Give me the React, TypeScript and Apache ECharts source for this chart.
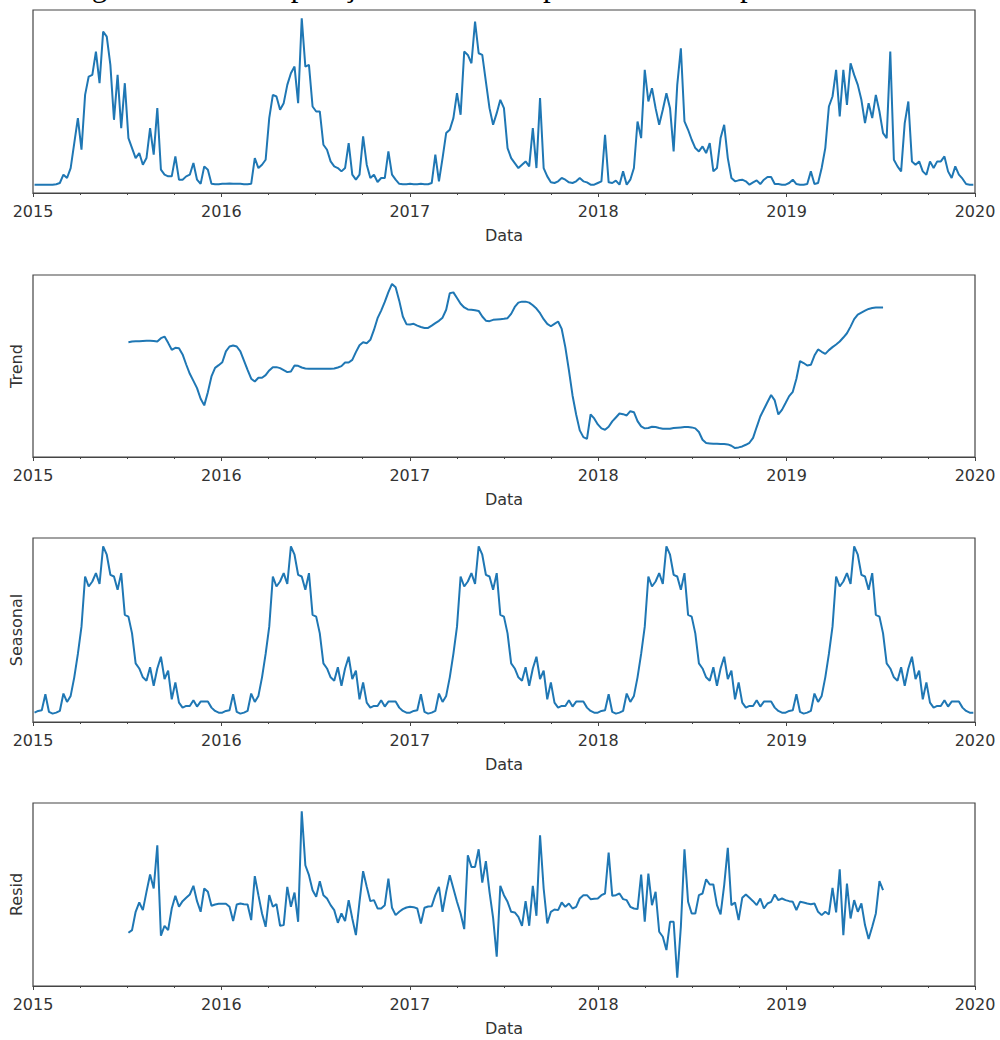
import React, { useEffect, useRef } from "react";
import * as echarts from "echarts";

// Weekly series, first observation on 2015-01-04 (3 days after the 2015 tick).
const FIRST_DAY_OFFSET = 3;
// Trend and residual are undefined for the first and last half-cycle (26 weeks).
const DECOMP_START = 26;

const yearTicks = ["2015", "2016", "2017", "2018", "2019", "2020"];

const observed = [
  0, 0, 0, 0, 0, 0, 0.3, 1, 6, 4, 10, 25, 40, 21, 54, 65, 66, 80, 61, 92,
  89, 72, 39, 66, 34, 61, 28, 22, 16, 19, 12, 16, 34, 18, 46, 9, 6, 5, 5, 17,
  3, 3, 5, 6, 13, 3, 0.5, 11, 9, 0.5, 0.3, 0.3,
  0.5, 0.5, 0.7, 0.5, 0.5, 0.5, 0.3, 0.3, 0.5, 16, 10, 12, 15, 40, 54, 53, 45, 49, 60,
  67, 71, 49, 100, 71, 72, 47, 44, 44, 24, 21, 14, 11, 10, 8, 10, 25, 6, 3, 6,
  29, 12, 4, 6, 1.6, 4, 4, 20, 6, 3, 0.5, 0.3, 0.3,
  0.5, 0.3, 0.3, 0.5, 0.3, 0.3, 1, 18, 2, 16, 31, 33, 40, 55, 42, 80, 78, 73, 98, 79,
  78, 62, 46, 36, 43, 51,
  46, 22, 16, 13, 10, 12, 14, 11, 34, 10,
  52, 10, 5, 1.4, 1, 2, 4, 3, 1.4, 1,
  2, 4, 2, 1.4, 0, 0, 1, 2, 30, 1.4,
  1, 2.4, 0, 8, 0, 3, 10, 38, 28, 69,
  50, 58, 46, 36, 45, 55, 46, 20, 60, 82,
  38, 33, 27, 22, 20, 23, 19, 25, 8, 10,
  28, 36, 16, 4, 2, 2.6, 3, 2, 0, 1.4,
  2.6, 0.4, 3, 4.6, 4.6, 0.4, 0.4, 0, 0, 1,
  3, 0.4, 0, 0, 0.4, 8, 0.4, 1, 10, 22,
  47, 53, 69, 41, 69, 48, 73, 66, 60, 51,
  37, 49, 40, 54, 44, 31, 28, 80, 15, 11,
  8, 37, 50, 14, 12, 14, 8, 6, 14, 10,
  14, 14, 17, 8, 4, 11, 6, 3.6, 0.4, 0,
  0,
];

const trend = [
  64.4, 64.8, 64.9, 65, 65.1, 65.2, 65.2, 65.1, 64.8, 66.8,
  67.8, 64, 59.8, 61, 60.8, 57, 50.9, 45.3, 41, 36.6,
  30.2, 26.2, 34.2, 43.7, 48.9, 50.5, 52.3, 58.8, 61.8, 62.4,
  61.8, 58.8, 53.3, 47.7, 42.3, 40.6, 42.9, 42.9, 44.5, 47.3,
  49.3, 49.3, 48.7, 47.5, 46.3, 46.7, 50.3, 50.1, 49.1, 48.5,
  48.3, 48.3, 48.3, 48.3, 48.3, 48.3, 48.3, 48.5, 49.1, 49.9,
  52.1, 52.1, 53.7, 58.4, 62.5, 64.4, 63.8, 65.8, 71.8, 78.9,
  83.5, 88.7, 94.6, 99.6, 97.6, 89.5, 79.9, 75.3, 75.1, 75.5,
  74.4, 73.6, 73, 73, 74.4, 75.9, 77.3, 79.2, 84, 94,
  94.5, 91.1, 87.6, 85.4, 84.2, 84, 83.7, 83.3, 79.9, 77.4,
  77.1, 77.9, 78.1, 78.3, 78.5, 78.9, 81.5, 85.7, 88.3, 88.9,
  88.9, 88.3, 86.7, 84.7, 81.9, 78.3, 75.5, 74, 75.5, 76.9,
  72.4, 61.4, 47.3, 32.2, 20.7, 11.1, 7, 6, 20.7, 18.3,
  14.7, 12.3, 11.5, 13.3, 16.5, 18.9, 21.3, 20.9, 20.1, 22.7,
  22.1, 16.7, 13.5, 12.3, 12.5, 13.3, 13.1, 12.5, 12.1, 12.1,
  12.1, 12.5, 12.7, 12.9, 13.1, 13.1, 12.9, 12.3, 10.1, 5.4,
  3.4, 3.2, 3, 3, 2.8, 2.8, 2.6, 1.8, 0.4, 0.8,
  1.4, 2.4, 3.6, 6.6, 13.1, 19.5, 23.9, 28.2, 32.5, 29.2,
  20.7, 23.5, 27.6, 31.8, 34.4, 42.3, 53, 51.8, 50.3, 50.7,
  56.3, 60, 58.6, 57.3, 59.6, 61.4, 63, 64.8, 67.2, 69.8,
  73.8, 78.3, 81.1, 82.3, 83.5, 84.5, 85, 85.3, 85.3, 85.3,
];

// Seasonal component: the same 52-week cycle for every year.
const seasonal = [
  0.6, 1.6, 2, 11.6, 1, 0, 0.6, 1.6, 12, 7, 10.6, 21.7, 35.7, 52, 82, 76, 79, 84, 77.5, 100,
  95, 83, 82, 74, 84, 59, 58, 48, 30, 27, 21.7, 19.7, 27.7, 16.7, 27, 34, 20.7, 25.7, 8.6, 18.7,
  6.6, 3.6, 4.6, 4.6, 8, 4.2, 7.2, 7.2, 7.2, 3.6, 1.6, 0.6,
  0.6, 1.6, 2, 11.6, 1, 0, 0.6, 1.6, 12, 7, 10.6, 21.7, 35.7, 52, 82, 76, 79, 84, 77.5, 100,
  95, 83, 82, 74, 84, 59, 58, 48, 30, 27, 21.7, 19.7, 27.7, 16.7, 27, 34, 20.7, 25.7, 8.6, 18.7,
  6.6, 3.6, 4.6, 4.6, 8, 4.2, 7.2, 7.2, 7.2, 3.6, 1.6, 0.6,
  0.6, 1.6, 2, 11.6, 1, 0, 0.6, 1.6, 12, 7, 10.6, 21.7, 35.7, 52, 82, 76, 79, 84, 77.5, 100,
  95, 83, 82, 74, 84, 59, 58, 48, 30, 27, 21.7, 19.7, 27.7, 16.7, 27, 34, 20.7, 25.7, 8.6, 18.7,
  6.6, 3.6, 4.6, 4.6, 8, 4.2, 7.2, 7.2, 7.2, 3.6, 1.6, 0.6,
  0.6, 1.6, 2, 11.6, 1, 0, 0.6, 1.6, 12, 7, 10.6, 21.7, 35.7, 52, 82, 76, 79, 84, 77.5, 100,
  95, 83, 82, 74, 84, 59, 58, 48, 30, 27, 21.7, 19.7, 27.7, 16.7, 27, 34, 20.7, 25.7, 8.6, 18.7,
  6.6, 3.6, 4.6, 4.6, 8, 4.2, 7.2, 7.2, 7.2, 3.6, 1.6, 0.6,
  0.6, 1.6, 2, 11.6, 1, 0, 0.6, 1.6, 12, 7, 10.6, 21.7, 35.7, 52, 82, 76, 79, 84, 77.5, 100,
  95, 83, 82, 74, 84, 59, 58, 48, 30, 27, 21.7, 19.7, 27.7, 16.7, 27, 34, 20.7, 25.7, 8.6, 18.7,
  6.6, 3.6, 4.6, 4.6, 8, 4.2, 7.2, 7.2, 7.2, 3.6, 1.6, 0.6,
  0.6,
];

const resid = [
  27, 28.6, 39.6, 45.2, 40.6, 51.6, 62, 53.6, 79.6, 25.2,
  31.2, 28.6, 41.6, 49.2, 42.6, 46, 48, 50, 55.2, 46,
  39.6, 53.6, 51.6, 43.2, 44, 44.4, 44.4, 44.4, 42.6, 34,
  44, 44.6, 44.2, 44, 34.6, 61, 49.6, 38.6, 30.6, 49.6,
  42.6, 44.2, 31.2, 31.6, 54.6, 42.6, 51.2, 33.6, 100, 67.6,
  61.6, 52.6, 48.6, 58, 49.6, 47.6, 43.6, 40.6, 33, 38.6,
  34, 46.6, 35.6, 25.6, 45.6, 64, 54.6, 46, 46.6, 41.6,
  41.6, 43.6, 59.6, 42, 37.6, 39.6, 41.2, 42.2, 42.6, 42.4,
  41.6, 32.6, 42, 42.8, 43, 49.6, 54.6, 39.6, 51.6, 61.6,
  53.6, 45.6, 38.6, 29.2, 73.6, 66.6, 66.6, 77.2, 57.2, 70,
  51.6, 36, 12.6, 55.2, 49.6, 45.6, 39.6, 39.2, 36.6, 31.2,
  46, 31.2, 55.2, 37.2, 85.6, 53.6, 32.6, 39.6, 41, 40.6,
  45.2, 42.6, 44.6, 41.6, 42.6, 47.6, 49.6, 49.6, 47.2, 47.4,
  47.6, 49.6, 50.6, 75.2, 49.2, 49.6, 50.6, 47.2, 46.6, 42.6,
  41.6, 41.2, 62, 33.6, 62.6, 43.6, 51.6, 27.6, 24.6, 16.6,
  33.6, 33.6, 0, 30.6, 77.2, 45.6, 38.6, 38.6, 49.6, 50.6,
  59.2, 56, 56, 43.6, 38, 55.6, 78, 43.6, 45.2, 34.6,
  48, 50, 48, 46, 43.6, 47.6, 41.6, 44.6, 45.6, 50,
  46.6, 47.6, 46.6, 46, 45.6, 40.6, 45.6, 45.2, 44.6, 44.2,
  44.6, 39.6, 37.6, 39.6, 38, 54, 39.2, 65.2, 25.6, 56.6,
  35.6, 46.6, 39.6, 44.6, 31.6, 23.2, 30.6, 38.6, 58, 52.6,
];

const LINE_COLOR = "#1f77b4";
const FRAME_COLOR = "#444";
const TEXT_COLOR = "#333";
const FONT = "DejaVu Sans";

function weekToYear(i: number): number {
  return 2015 + (FIRST_DAY_OFFSET + 7 * i) / 365.25;
}

type Panel = { label: string; values: number[]; start: number; top: number; height: number };

const panels: Panel[] = [
  { label: "", values: observed, start: 0, top: 10, height: 183 },
  { label: "Trend", values: trend, start: DECOMP_START, top: 275, height: 182 },
  { label: "Seasonal", values: seasonal, start: 0, top: 538, height: 184 },
  { label: "Resid", values: resid, start: DECOMP_START, top: 803, height: 183 },
];

export default function App() {
  const ref = useRef<HTMLDivElement>(null);

  useEffect(() => {
    if (!ref.current) return;
    const chart = echarts.init(ref.current, undefined, { renderer: "svg" });

    const textStyle = { fontFamily: FONT, fontSize: 16, color: TEXT_COLOR };

    chart.setOption({
      animation: false,
      backgroundColor: "#ffffff",
      grid: panels.map((p) => ({
        left: 33,
        width: 942,
        top: p.top,
        height: p.height,
        show: true,
        borderColor: FRAME_COLOR,
        borderWidth: 1.2,
        backgroundColor: "transparent",
      })),
      xAxis: panels.map((_, k) => ({
        type: "value",
        gridIndex: k,
        position: "bottom",
        min: 2015,
        max: 2020,
        interval: 1,
        name: "Data",
        nameLocation: "middle",
        nameGap: 34,
        nameTextStyle: textStyle,
        axisLine: { show: true, onZero: false, lineStyle: { color: FRAME_COLOR, width: 1.2 } },
        axisTick: { show: true, length: 4, lineStyle: { color: FRAME_COLOR, width: 1 } },
        minorTick: { show: true, splitNumber: 4, length: 2, lineStyle: { color: FRAME_COLOR, width: 1 } },
        splitLine: { show: false },
        minorSplitLine: { show: false },
        axisLabel: {
          ...textStyle,
          margin: 10,
          formatter: (v: number) => yearTicks[Math.round(v) - 2015] ?? "",
        },
      })),
      yAxis: panels.map((p, k) => ({
        type: "value",
        gridIndex: k,
        min: -5,
        max: 105,
        name: p.label,
        nameLocation: "middle",
        nameRotate: 90,
        nameGap: 9,
        nameTextStyle: textStyle,
        axisLine: { show: false, onZero: false },
        axisTick: { show: false },
        axisLabel: { show: false },
        splitLine: { show: false },
      })),
      series: panels.map((p, k) => ({
        type: "line",
        xAxisIndex: k,
        yAxisIndex: k,
        data: p.values.map((v, j) => [weekToYear(p.start + j), v]),
        showSymbol: false,
        symbol: "none",
        silent: true,
        lineStyle: { color: LINE_COLOR, width: 2 },
        itemStyle: { color: LINE_COLOR },
      })),
      graphic: [
        {
          type: "text",
          x: 66,
          y: -15,
          silent: true,
          style: {
            text: "Figura 1 – Decomposição da série temporal dos casos por semana",
            fontFamily: "Liberation Serif",
            fontSize: 31,
            fill: "#000",
            align: "left",
            verticalAlign: "middle",
          },
        },
      ],
    });

    return () => chart.dispose();
  }, []);

  return (
    <div
      ref={ref}
      style={{ position: "absolute", left: 0, top: 0, width: 1000, height: 1040 }}
    />
  );
}
